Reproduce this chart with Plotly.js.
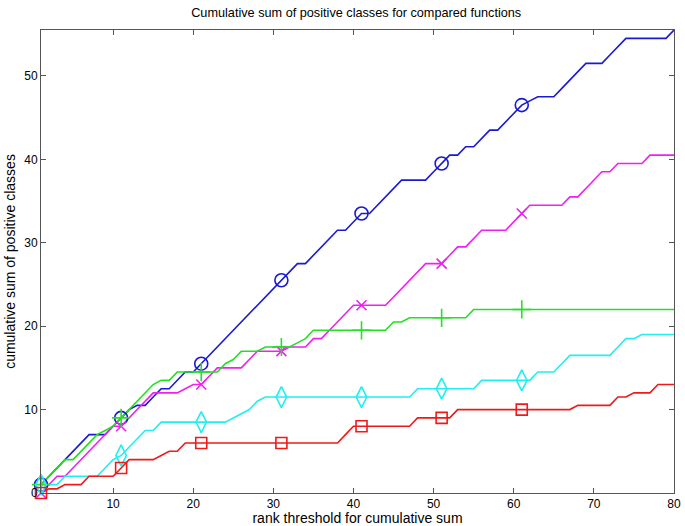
<!DOCTYPE html>
<html>
<head>
<meta charset="utf-8">
<script src="https://cdn.plot.ly/plotly-3.0.1.min.js"></script>
<style>html,body{margin:0;padding:0;background:#fff}#chart{width:685px;height:526px}</style>
</head>
<body>
<div id="chart"></div>
<script>
const ranks = Array.from({length: 80}, (_, i) => i + 1);

const blueVals = [1,2,3,4,5,6,7,7,7,8, 9,10,10.5,10.5,11.5,12.5,12.5,13.5,14.5,14.5,
  15.5,16.5,17.5,18.5,19.5,20.5,21.5,22.5,23.5,24.5, 25.5,26.5,27.5,27.5,28.5,29.5,30.5,31.5,31.5,32.5,
  33.5,33.5,34.5,35.5,36.5,37.5,37.5,37.5,37.5,38.5, 39.5,40.5,40.5,41.5,41.5,42.5,43.5,43.5,44.5,45.5,
  46.5,47,47.5,47.5,47.5,48.5,49.5,50.5,51.5,51.5, 51.5,52.5,53.5,54.5,54.5,54.5,54.5,54.5,54.5,55.5];

const magentaVals = [0,1,2,2,3,4,5,6,7,8, 8,9,10,11,12,12,12,12,12.5,13,
  13,14,15,15,15,15,16,17,17,17, 17,17.5,17.5,17.5,18.5,18.5,19.5,20.5,21.5,22.5,
  22.5,22.5,22.5,22.5,23.5,24.5,25.5,26.5,27.5,27.5, 27.5,28.5,29.5,29.5,30.5,31.5,31.5,31.5,31.5,32.5,
  33.5,34.5,34.5,34.5,34.5,34.5,35.5,35.5,36.5,37.5, 38.5,38.5,39.5,39.5,39.5,39.5,40.5,40.5,40.5,40.5];

const greenVals = [1,2,3,4,4,5,6,7,7.5,8, 9,10,11,12,13,13.5,13.5,14.5,14.5,14.5,
  14.5,14.5,14.5,15.5,16,17,17,17,17.5,17.5, 17.5,17.5,18,18.5,19.5,19.5,19.5,19.5,19.5,19.5,
  19.5,19.5,19.5,19.5,20.5,20.5,21,21,21,21, 21,21,21,21,22,22,22,22,22,22,
  22,22,22,22,22,22,22,22,22,22, 22,22,22,22,22,22,22,22,22,22];

const cyanVals = [1,1,1,2,2,2,2,2,3,4, 4.5,5.5,6.5,7.5,7.5,8.5,8.5,8.5,8.5,8.5,
  8.5,8.5,8.5,8.5,9,9.5,10,11,11.5,11.5, 11.5,11.5,11.5,11.5,11.5,11.5,11.5,11.5,11.5,11.5,
  11.5,11.5,11.5,11.5,11.5,11.5,11.5,12.5,12.5,12.5, 12.5,12.5,12.5,12.5,12.5,13.5,13.5,13.5,13.5,13.5,
  13.5,13.5,14.5,14.5,14.5,15.5,16.5,16.5,16.5,16.5, 16.5,16.5,17.5,18.5,18.5,19,19,19,19,19];

const redVals = [0,0.5,0.5,1,1,1,2,2,2,2, 3,4,4,4,4,4.5,5,5,6,6,
  6,6,6,6,6,6,6,6,6,6, 6,6,6,6,6,6,6,6,7,8,
  8,8,8,8,8,8,8,9,9,9, 9,9,10,10,10,10,10,10,10,10,
  10,10,10,10,10,10,10,10.5,10.5,10.5, 10.5,10.5,11.5,11.5,12,12,12,13,13,13];

const markerRanks = [1, 11, 21, 31, 41, 51, 61];

const series = [
  {name: 'blue', vals: blueVals, color: '#1a1ad2', symbol: 'circle-open', size: 13},
  {name: 'magenta', vals: magentaVals, color: '#f020f0', symbol: 'x-thin-open', size: 10},
  {name: 'green', vals: greenVals, color: '#22e022', symbol: 'cross-thin-open', size: 13},
  {name: 'cyan', vals: cyanVals, color: '#22eeee', symbol: 'diamond-tall-open', size: 15},
  {name: 'red', vals: redVals, color: '#ee1a1a', symbol: 'square-open', size: 11}
];

const traces = [];
series.forEach(s => {
  traces.push({
    x: ranks, y: s.vals, mode: 'lines', type: 'scatter',
    line: {color: s.color, width: 1.6}, hoverinfo: 'skip', showlegend: false
  });
});
series.forEach(s => {
  const mx = markerRanks.filter(r => ranks.indexOf(r) >= 0);
  const my = mx.map(r => s.vals[ranks.indexOf(r)]);
  traces.push({
    x: mx, y: my, mode: 'markers', type: 'scatter',
    marker: {symbol: s.symbol, size: s.size, color: s.color, line: {color: s.color, width: 1.6}},
    hoverinfo: 'skip', showlegend: false, cliponaxis: false
  });
});

const axisCommon = {
  showline: true, linecolor: '#555', linewidth: 1, mirror: 'ticks',
  ticks: 'inside', ticklen: 5, tickcolor: '#555', tickwidth: 1,
  showgrid: false, zeroline: false,
  tickfont: {family: 'Liberation Sans, Arial, sans-serif', size: 12, color: '#000'}
};

const layout = {
  width: 685, height: 526,
  margin: {l: 41, r: 11, t: 30, b: 33},
  paper_bgcolor: '#fff', plot_bgcolor: '#fff',
  font: {family: 'Liberation Sans, Arial, sans-serif', color: '#000'},
  title: {text: 'Cumulative sum of positive classes for compared functions',
    font: {size: 12.7, color: '#000'}, x: 0.52, xanchor: 'center', y: 0.985, yanchor: 'top'},
  xaxis: Object.assign({}, axisCommon, {
    range: [1, 80], tickvals: [10, 20, 30, 40, 50, 60, 70, 80],
    title: {text: 'rank threshold for cumulative sum', font: {size: 14, color: '#000'}, standoff: 2}
  }),
  yaxis: Object.assign({}, axisCommon, {
    range: [0, 55.5], tickvals: [0, 10, 20, 30, 40, 50],
    title: {text: 'cumulative sum of positive classes', font: {size: 14, color: '#000'}, standoff: 5}
  })
};

Plotly.newPlot('chart', traces, layout, {staticPlot: true, displayModeBar: false});
</script>
</body>
</html>
